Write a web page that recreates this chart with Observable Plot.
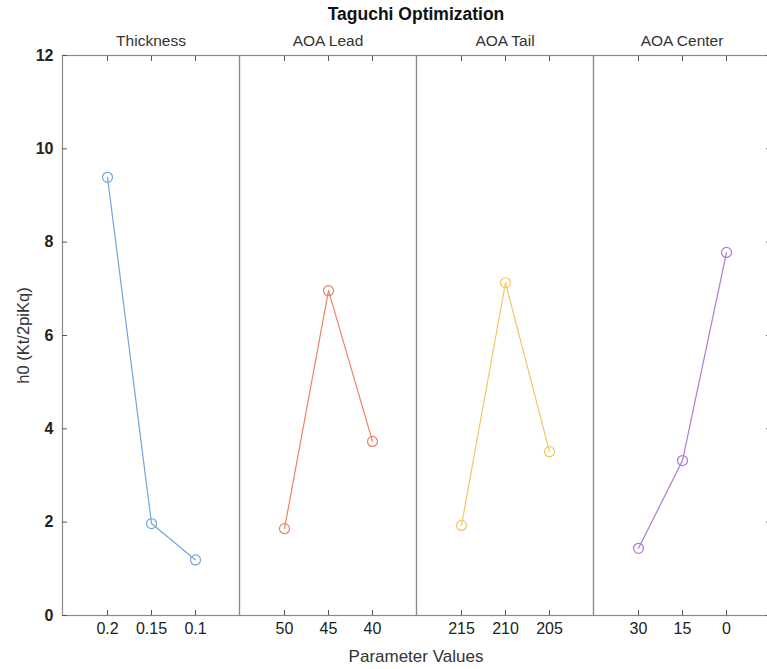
<!DOCTYPE html>
<html>
<head>
<meta charset="utf-8">
<script src="https://cdn.jsdelivr.net/npm/d3@7"></script>
<script src="https://cdn.jsdelivr.net/npm/@observablehq/plot@0.6"></script>
<style>
  html, body { margin: 0; padding: 0; background: #fff; overflow: hidden; }
  body { width: 767px; height: 669px; font-family: "Liberation Sans", Arial, Helvetica, sans-serif; }
  .title { margin-left: 62px; width: 708px; height: 28px; line-height: 28px; text-align: center; font-weight: bold; font-size: 17.5px; color: #111; }
  .xlabel { margin-left: 62px; width: 708px; height: 24px; line-height: 24px; text-align: center; font-size: 17px; color: #333; }
  #chart svg { display: block; max-width: none !important; }
</style>
</head>
<body>
<div class="title">Taguchi Optimization</div>
<div id="chart"></div>
<div class="xlabel">Parameter Values</div>
<script>
// ---- data ----
const params = ["Thickness", "AOA Lead", "AOA Tail", "AOA Center"];
const thicknessLevels = ["0.2", "0.15", "0.1"];
const aoaLeadLevels = ["50", "45", "40"];
const aoaTailLevels = ["215", "210", "205"];
const aoaCenterLevels = ["30", "15", "0"];
const thicknessH0 = [9.39, 1.97, 1.19];
const aoaLeadH0 = [1.86, 6.96, 3.73];
const aoaTailH0 = [1.93, 7.13, 3.51];
const aoaCenterH0 = [1.44, 3.32, 7.78];
const yTicks = [0, 2, 4, 6, 8, 10, 12];
const colors = ["#72a6de", "#ed8265", "#f5c665", "#b27bd2"];

const levelsByParam = [thicknessLevels, aoaLeadLevels, aoaTailLevels, aoaCenterLevels];
const h0ByParam = [thicknessH0, aoaLeadH0, aoaTailH0, aoaCenterH0];
const rows = [];
params.forEach((p, i) => {
  levelsByParam[i].forEach((lv, j) => {
    rows.push({param: p, level: lv, pos: j, h0: h0ByParam[i][j]});
  });
});

const font = "Liberation Sans, Arial, Helvetica, sans-serif";

const chart = Plot.plot({
  width: 771,
  height: 617,
  marginLeft: 62,
  marginRight: 1,
  marginTop: 27,
  marginBottom: 30,
  style: {fontFamily: font, background: "#fff"},
  fx: {domain: params, padding: 0},
  x: {type: "point", domain: [0, 1, 2], padding: 1},
  y: {domain: [0, 12]},
  color: {domain: params, range: colors},
  marks: [
    Plot.frame({stroke: "#8a8a8a", strokeWidth: 1.2}),
    // facet labels on top
    Plot.axisFx({anchor: "top", tickSize: 0, tickPadding: 10, fontSize: 15.5, fill: "#333", label: null}),
    // inward ticks on top and bottom
    Plot.axisX({anchor: "bottom", tickSize: -5, tickFormat: () => "", label: null, stroke: "#555"}),
    Plot.axisX({anchor: "top", tickSize: -5, tickFormat: () => "", label: null, stroke: "#555"}),
    // y ticks inward left and right
    Plot.axisY({anchor: "left", ticks: yTicks, tickSize: -5, tickFormat: () => "", label: null, stroke: "#555"}),
    Plot.axisY({anchor: "right", ticks: yTicks, tickSize: -5, tickFormat: () => "", label: null, stroke: "#555"}),
    // y tick labels
    Plot.axisY({anchor: "left", ticks: yTicks, tickSize: 0, tickPadding: 9, fontSize: 16, fontWeight: "bold", fill: "#222", label: null}),
    // y axis title
    Plot.axisY({anchor: "left", ticks: [], tickSize: 0, label: "h0 (Kt/2piKq)", labelArrow: "none", labelAnchor: "center", labelOffset: 45, fontSize: 16.5, fill: "#333"}),
    // per-facet category labels
    Plot.text(rows, {fx: "param", x: "pos", text: "level", frameAnchor: "bottom", dy: 18, fontSize: 16, fill: "#222"}),
    Plot.line(rows, {fx: "param", x: "pos", y: "h0", stroke: "param", strokeWidth: 1.2}),
    Plot.dot(rows, {fx: "param", x: "pos", y: "h0", stroke: "param", r: 5, strokeWidth: 1.2, fill: "none"})
  ]
});
document.getElementById("chart").appendChild(chart);
</script>
</body>
</html>
